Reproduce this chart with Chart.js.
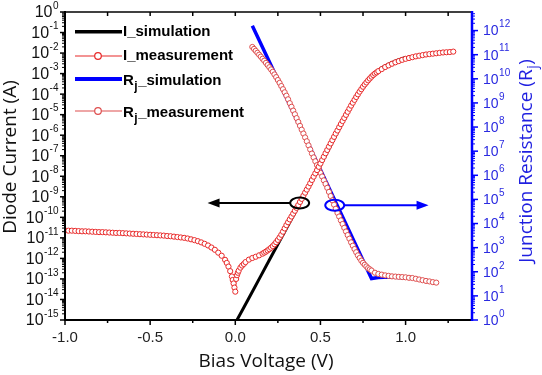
<!DOCTYPE html>
<html>
<head>
<meta charset="utf-8">
<script src="https://cdn.jsdelivr.net/npm/chart.js@4.4.1/dist/chart.umd.min.js"></script>
<style>
body { margin: 0; background: #fff; }
canvas { display: block; }
</style>
</head>
<body>
<canvas id="chart" width="542" height="375"></canvas>
<script>
// bias voltage (V) and log10 of diode current (A), measured
const vMeasI = [-1.00,-0.98,-0.96,-0.94,-0.92,-0.90,-0.88,-0.86,-0.84,-0.82,-0.80,-0.78,-0.76,-0.74,-0.72,-0.70,-0.68,-0.66,-0.64,-0.62,
	-0.60,-0.58,-0.56,-0.54,-0.52,-0.50,-0.48,-0.46,-0.44,-0.42,-0.40,-0.38,-0.36,-0.34,-0.32,-0.30,-0.28,-0.26,-0.24,-0.22,
	-0.20,-0.18,-0.16,-0.14,-0.12,-0.10,-0.08,-0.06,-0.05,-0.04,-0.03,-0.02,-0.015,-0.01,-0.005,0.000,0.005,0.010,0.015,0.02,
	0.03,0.04,0.05,0.06,0.08,0.10,0.12,0.14,
	0.16,0.17,0.18,0.19,0.20,0.21,0.22,0.23,0.24,0.25,0.26,0.27,0.28,0.29,0.30,0.31,0.32,0.33,0.34,0.35,
	0.36,0.37,0.38,0.39,0.40,0.41,0.42,0.43,0.44,0.45,0.46,0.47,0.48,0.49,0.50,0.51,0.52,0.53,0.54,0.55,
	0.56,0.57,0.58,0.59,0.60,0.61,0.62,0.63,0.64,0.65,0.66,0.67,0.68,0.69,0.70,0.71,0.72,0.73,0.74,0.75,
	0.76,0.77,0.78,0.79,0.80,0.81,0.82,0.83,0.84,
	0.86,0.88,0.90,0.92,0.94,0.96,0.98,1.00,1.02,1.04,1.06,1.08,1.10,1.12,1.14,1.16,1.18,1.20,1.22,1.24,1.26,1.28];
const logIMeas = [-10.64,-10.65,-10.65,-10.66,-10.67,-10.68,-10.68,-10.69,-10.70,-10.71,-10.72,-10.72,-10.73,-10.74,-10.75,-10.76,-10.76,-10.77,-10.78,-10.79,
	-10.80,-10.81,-10.82,-10.83,-10.84,-10.85,-10.86,-10.87,-10.88,-10.89,-10.91,-10.92,-10.94,-10.96,-10.98,-11.00,-11.03,-11.07,-11.11,-11.16,
	-11.22,-11.29,-11.37,-11.47,-11.58,-11.72,-11.87,-12.07,-12.22,-12.40,-12.62,-12.88,-13.05,-13.22,-13.42,-13.62,-13.00,-12.82,-12.70,-12.60,
	-12.45,-12.35,-12.27,-12.18,-12.06,-11.98,-11.92,-11.85,
	-11.77,-11.72,-11.67,-11.61,-11.55,-11.48,-11.40,-11.31,-11.21,-11.10,-10.98,-10.85,-10.70,-10.54,-10.38,-10.24,-10.10,-9.96,-9.82,-9.68,
	-9.54,-9.40,-9.25,-9.10,-8.95,-8.80,-8.65,-8.50,-8.34,-8.18,-8.02,-7.86,-7.70,-7.54,-7.38,-7.21,-7.05,-6.88,-6.72,-6.56,
	-6.40,-6.24,-6.08,-5.92,-5.77,-5.61,-5.46,-5.31,-5.16,-5.01,-4.86,-4.71,-4.56,-4.42,-4.28,-4.14,-4.01,-3.88,-3.76,-3.64,
	-3.53,-3.43,-3.33,-3.24,-3.15,-3.07,-3.00,-2.94,-2.88,
	-2.78,-2.68,-2.60,-2.52,-2.45,-2.39,-2.33,-2.28,-2.24,-2.20,-2.16,-2.13,-2.10,-2.07,-2.05,-2.03,-2.01,-1.99,-1.97,-1.96,-1.95,-1.93];

// simulated current
const vSimI = [0.01,0.05,0.10,0.15,0.20,0.25,0.30,0.35,0.40,0.45,0.50,0.55,0.60,0.65,0.70,0.74,0.78,0.82,0.86,0.90,0.95,1.00];
const logISim = [-15.0,-14.39,-13.62,-12.85,-12.08,-11.31,-10.55,-9.78,-9.00,-8.24,-7.45,-6.66,-5.85,-5.05,-4.27,-3.72,-3.27,-2.95,-2.72,-2.54,-2.36,-2.21];

// simulated junction resistance, log10(ohm)
const vSimR = [0.10,0.30,0.50,0.80,0.84,0.90,1.00];
const logRSim = [12.2,9.21,6.23,1.72,1.76,1.78,1.75];

// measured junction resistance
const vMeasR = [0.10,0.11,0.12,0.13,0.14,0.15,0.16,0.17,0.18,0.19,0.20,0.21,0.22,0.23,0.24,0.25,0.26,0.27,0.28,0.29,
	0.30,0.31,0.32,0.33,0.34,0.35,0.36,0.37,0.38,0.39,0.40,0.41,0.42,0.43,0.44,0.45,0.46,0.47,0.48,0.49,
	0.50,0.51,0.52,0.53,0.54,0.55,0.56,0.57,0.58,0.59,0.60,0.61,0.62,0.63,0.64,0.65,0.66,0.67,0.68,0.69,
	0.70,0.71,0.72,0.73,0.74,0.75,0.76,0.77,0.78,0.79,0.80,
	0.82,0.84,0.86,0.88,0.90,0.92,0.94,0.96,0.98,1.00,1.02,1.04,1.06,1.08,1.10,1.12,1.14,1.16,1.18];
const logRMeas = [11.32,11.24,11.16,11.08,11.00,10.92,10.83,10.75,10.66,10.57,10.48,10.39,10.29,10.18,10.07,9.95,9.83,9.70,9.57,9.44,
	9.30,9.15,8.99,8.84,8.68,8.53,8.37,8.21,8.05,7.89,7.73,7.57,7.41,7.24,7.07,6.90,6.74,6.58,6.42,6.26,
	6.10,5.95,5.79,5.64,5.48,5.31,5.14,4.96,4.78,4.61,4.44,4.29,4.13,3.98,3.82,3.67,3.52,3.37,3.22,3.08,
	2.94,2.81,2.68,2.57,2.46,2.37,2.29,2.22,2.15,2.10,2.05,
	1.96,1.91,1.88,1.85,1.83,1.81,1.80,1.79,1.78,1.77,1.75,1.74,1.71,1.68,1.65,1.62,1.60,1.57,1.55];

// circled points and arrow tips: [x, log10 y, axis, arrow tip x, colour]
const callouts = [[0.378, -9.30, 'y', -0.163, '#000'], [0.584, 4.76, 'y1', 1.135, '#0000ff']];

const I_RED = 'rgb(232,40,40)';
const R_RED = 'rgb(222,78,78)';
const BLUE = '#0000ff';

function toPts(xs, logs) {
	return xs.map((x, i) => ({x: x, y: Math.pow(10, logs[i])}));
}

function drawPow(ctx, e, x, y, base, sup, alignRight) {
	ctx.font = base + 'px "Liberation Sans", Arial, sans-serif';
	var wb = ctx.measureText('10').width;
	ctx.font = sup + 'px "Liberation Sans", Arial, sans-serif';
	var ws = ctx.measureText(String(e)).width;
	var x0 = alignRight ? x - wb - ws : x;
	ctx.textAlign = 'left';
	ctx.textBaseline = 'middle';
	ctx.font = base + 'px "Liberation Sans", Arial, sans-serif';
	ctx.fillText('10', x0, y + 1);
	ctx.font = sup + 'px "Liberation Sans", Arial, sans-serif';
	ctx.fillText(String(e), x0 + wb + 0.5, y - 6);
}

// text with a subscript j after the leading R
function drawRj(ctx, pre, rest, x, y, size, subSize, weight, fam) {
	ctx.textAlign = 'left';
	ctx.textBaseline = 'middle';
	ctx.font = weight + ' ' + size + 'px ' + fam;
	ctx.fillText(pre, x, y);
	x += ctx.measureText(pre).width;
	ctx.font = weight + ' ' + subSize + 'px ' + fam;
	ctx.fillText('j', x + 0.5, y + 6);
	x += ctx.measureText('j').width + 1;
	ctx.font = weight + ' ' + size + 'px ' + fam;
	ctx.fillText(rest, x, y);
}

function textWidthRj(ctx, pre, rest, size, subSize, weight, fam) {
	ctx.font = weight + ' ' + size + 'px ' + fam;
	var w = ctx.measureText(pre).width + ctx.measureText(rest).width;
	ctx.font = weight + ' ' + subSize + 'px ' + fam;
	return w + ctx.measureText('j').width + 1;
}

const decor = {
	id: 'decor',
	afterDraw(chart) {
		var ctx = chart.ctx, a = chart.chartArea;
		var sx = chart.scales.x, yl = chart.scales.y, yr = chart.scales.y1;
		ctx.save();

		// frame
		ctx.strokeStyle = '#000';
		ctx.lineWidth = 1.5;
		ctx.beginPath(); ctx.moveTo(a.left, a.top); ctx.lineTo(a.right, a.top); ctx.stroke();
		ctx.lineWidth = 2;
		ctx.beginPath(); ctx.moveTo(a.left, a.top - 1); ctx.lineTo(a.left, a.bottom); ctx.lineTo(a.right, a.bottom); ctx.stroke();
		ctx.strokeStyle = BLUE;
		ctx.lineWidth = 2.5;
		ctx.beginPath(); ctx.moveTo(a.right, a.top - 1); ctx.lineTo(a.right, a.bottom + 1); ctx.stroke();

		// x ticks, bottom outward and top inward
		ctx.strokeStyle = '#000';
		ctx.lineWidth = 1.5;
		for (var i = -4; i <= 5; i++) {
			var px = sx.getPixelForValue(i / 4);
			var len = i % 2 === 0 ? 5 : 3;
			ctx.beginPath(); ctx.moveTo(px, a.bottom); ctx.lineTo(px, a.bottom + len); ctx.stroke();
			ctx.beginPath(); ctx.moveTo(px, a.top); ctx.lineTo(px, a.top + 4); ctx.stroke();
		}

		// left log ticks
		for (var e = -15; e <= 0; e++) {
			for (var k = 1; k <= 9; k++) {
				if (e === 0 && k > 1) break;
				var py = yl.getPixelForValue(k * Math.pow(10, e));
				ctx.lineWidth = k === 1 ? 1.5 : 1;
				ctx.beginPath(); ctx.moveTo(a.left, py); ctx.lineTo(a.left - (k === 1 ? 5 : 3), py); ctx.stroke();
			}
		}
		// right log ticks
		ctx.strokeStyle = BLUE;
		for (var e2 = 0; e2 <= 12; e2++) {
			for (var k2 = 1; k2 <= 9; k2++) {
				var val = k2 * Math.pow(10, e2);
				if (val > yr.max) break;
				var py2 = yr.getPixelForValue(val);
				ctx.lineWidth = k2 === 1 ? 1.5 : 1;
				ctx.beginPath(); ctx.moveTo(a.right, py2); ctx.lineTo(a.right + (k2 === 1 ? 6 : 3), py2); ctx.stroke();
			}
		}

		// tick labels on the log axes
		ctx.fillStyle = '#111';
		for (var e3 = -15; e3 <= 0; e3++) {
			drawPow(ctx, e3, 58, yl.getPixelForValue(Math.pow(10, e3)), 16, 10, true);
		}
		ctx.fillStyle = '#2a2ae0';
		for (var e4 = 0; e4 <= 12; e4++) {
			drawPow(ctx, e4, 483, yr.getPixelForValue(Math.pow(10, e4)), 14, 10, false);
		}

		// axis titles
		var fam = '"Open Sans", "Noto Sans", sans-serif';
		ctx.fillStyle = '#111';
		ctx.textAlign = 'center';
		ctx.textBaseline = 'middle';
		ctx.font = '19px ' + fam;
		ctx.fillText('Bias Voltage (V)', 266, 362);
		ctx.save();
		ctx.translate(11, 157);
		ctx.rotate(-Math.PI / 2);
		ctx.fillText('Diode Current (A)', 0, 0);
		ctx.restore();
		ctx.save();
		ctx.fillStyle = '#1f1fe0';
		ctx.translate(527, 161);
		ctx.rotate(-Math.PI / 2);
		var wt = textWidthRj(ctx, 'Junction Resistance (R', ')', 19, 14, '', fam);
		drawRj(ctx, 'Junction Resistance (R', ')', -wt / 2, 0, 19, 14, '', fam);
		ctx.restore();

		// circled crossings with arrows
		callouts.forEach(function (c) {
			var cx = sx.getPixelForValue(c[0]);
			var cy = chart.scales[c[2]].getPixelForValue(Math.pow(10, c[1]));
			var tip = sx.getPixelForValue(c[3]);
			var dir = tip < cx ? -1 : 1;
			ctx.strokeStyle = c[4];
			ctx.fillStyle = c[4];
			ctx.lineWidth = 2;
			ctx.beginPath(); ctx.ellipse(cx, cy, 9.5, 5.5, 0, 0, Math.PI * 2); ctx.stroke();
			ctx.beginPath(); ctx.moveTo(cx + dir * 9.5, cy); ctx.lineTo(tip - dir * 10, cy); ctx.stroke();
			ctx.beginPath(); ctx.moveTo(tip, cy); ctx.lineTo(tip - dir * 12, cy - 4.5); ctx.lineTo(tip - dir * 12, cy + 4.5); ctx.closePath(); ctx.fill();
		});

		// legend
		var rows = [31.7, 56, 79, 111];
		var lfam = '"Liberation Sans", Arial, sans-serif';
		chart.data.datasets.forEach(function (ds, i) {
			var y = rows[i];
			ctx.strokeStyle = ds.borderColor;
			ctx.lineWidth = ds.pointRadius ? 1.2 : ds.borderWidth + 0.5;
			ctx.beginPath(); ctx.moveTo(75, y); ctx.lineTo(122, y); ctx.stroke();
			if (ds.pointRadius) {
				ctx.fillStyle = '#fff';
				ctx.beginPath(); ctx.arc(98, y, 3.3, 0, Math.PI * 2); ctx.fill(); ctx.stroke();
			}
			ctx.fillStyle = '#000';
			if (ds.label.indexOf('Rj') === 0) {
				drawRj(ctx, 'R', ds.label.slice(2), 123, y + 2, 15, 12, 'bold', lfam);
			} else {
				ctx.textAlign = 'left';
				ctx.textBaseline = 'middle';
				ctx.font = 'bold 15px ' + lfam;
				ctx.fillText(ds.label, 123, y);
			}
		});
		ctx.restore();
	}
};

var ctx = document.getElementById('chart').getContext('2d');
new Chart(ctx, {
	type: 'line',
	data: {
		datasets: [
			{label: 'I_simulation', data: toPts(vSimI, logISim), yAxisID: 'y', borderColor: '#000', borderWidth: 3, pointRadius: 0, order: 2},
			{label: 'I_measurement', data: toPts(vMeasI, logIMeas), yAxisID: 'y', borderColor: I_RED, borderWidth: 1,
				pointRadius: 2.6, pointBorderWidth: 1, pointBorderColor: I_RED, pointBackgroundColor: '#fff', order: 1},
			{label: 'Rj_simulation', data: toPts(vSimR, logRSim), yAxisID: 'y1', borderColor: BLUE, borderWidth: 3.5, pointRadius: 0, order: 2},
			{label: 'Rj_measurement', data: toPts(vMeasR, logRMeas), yAxisID: 'y1', borderColor: R_RED, borderWidth: 1,
				pointRadius: 2.6, pointBorderWidth: 1, pointBorderColor: R_RED, pointBackgroundColor: '#fff', order: 1}
		]
	},
	options: {
		responsive: false,
		animation: false,
		devicePixelRatio: 1,
		layout: {padding: {top: 12, left: 0, right: 0, bottom: 0}},
		plugins: {legend: {display: false}, tooltip: {enabled: false}},
		elements: {line: {tension: 0}},
		scales: {
			x: {
				type: 'linear', min: -1.0, max: 1.39,
				grid: {display: false, drawTicks: false}, border: {display: false},
				ticks: {stepSize: 0.5, includeBounds: false, padding: 9, color: '#222',
					font: {family: '"Liberation Sans", Arial, sans-serif', size: 15},
					callback: v => v.toFixed(1)},
				afterFit: s => { s.height = 55; }
			},
			y: {
				type: 'logarithmic', position: 'left', min: 1e-15, max: 1,
				grid: {display: false, drawTicks: false}, border: {display: false},
				ticks: {display: false},
				afterFit: s => { s.width = 65; }
			},
			y1: {
				type: 'logarithmic', position: 'right', min: 1, max: Math.pow(10, 12.77),
				grid: {display: false, drawTicks: false}, border: {display: false},
				ticks: {display: false},
				afterFit: s => { s.width = 70; }
			}
		}
	},
	plugins: [decor]
});
</script>
</body>
</html>
